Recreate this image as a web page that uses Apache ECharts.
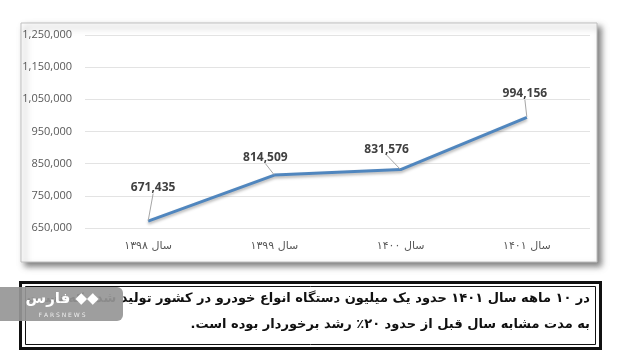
<!DOCTYPE html>
<html>
<head>
<meta charset="utf-8">
<script src="https://cdn.jsdelivr.net/npm/echarts@6/dist/echarts.min.js"></script>
<style>
html,body{margin:0;padding:0;background:#fff;}
#c{width:623px;height:362px;}
</style>
</head>
<body>
<div id="c"></div>
<script>
var categories = ['سال ۱۳۹۸', 'سال ۱۳۹۹', 'سال ۱۴۰۰', 'سال ۱۴۰۱'];
var production = [671435, 814509, 831576, 994156];
var yTicks = [650000, 750000, 850000, 950000, 1050000, 1150000, 1250000];
var captionLines = [
  'در ۱۰ ماهه سال ۱۴۰۱ حدود یک میلیون دستگاه انواع خودرو در کشور تولید شده که نسبت',
  'به مدت مشابه سال قبل از حدود ۲۰٪ رشد برخوردار بوده است.'
];
var labelShift = [[5, -22], [-9, -6], [-14, -9], [-2, -12]];

function fmt(v) { return v.toString().replace(/\B(?=(\d{3})+(?!\d))/g, ','); }

var chart = echarts.init(document.getElementById('c'), null, {renderer: 'canvas'});
chart.setOption({
  animation: false,
  backgroundColor: '#ffffff',
  grid: {left: 85, right: 33, top: 35, bottom: 134},
  xAxis: {
    type: 'category',
    data: categories,
    boundaryGap: true,
    axisLine: {show: false},
    axisTick: {show: false},
    axisLabel: {color: '#595959', fontSize: 11, fontFamily: 'DejaVu Sans', margin: 13}
  },
  yAxis: {
    type: 'value',
    min: yTicks[0],
    max: yTicks[yTicks.length - 1],
    interval: 100000,
    axisLine: {show: false},
    axisTick: {show: false},
    splitLine: {lineStyle: {color: '#e3e3e3', width: 1}},
    axisLabel: {color: '#595959', fontSize: 11, fontFamily: 'Open Sans', margin: 13,
      formatter: function (v) { return fmt(v); }}
  },
  series: [{
    type: 'line',
    data: production,
    symbol: 'circle',
    symbolSize: 1,
    showSymbol: true,
    itemStyle: {color: 'rgba(79,132,189,0)'},
    lineStyle: {color: '#5086be', width: 3, shadowColor: 'rgba(0,0,0,0.3)', shadowBlur: 3, shadowOffsetY: 2},
    label: {
      show: true, position: 'top', distance: 5, color: '#404040', fontSize: 12, fontWeight: 'bold',
      fontFamily: 'Open Sans',
      formatter: function (p) { return fmt(p.value); }
    },
    labelLine: {show: true, lineStyle: {color: '#a6a6a6', width: 1}},
    labelLayout: function (p) {
      var s = labelShift[p.dataIndex];
      return {dx: s[0], dy: s[1]};
    }
  }],
  graphic: [
    {type: 'rect', z: -10, shape: {x: 21, y: 23, width: 576, height: 239},
      style: {fill: '#fff', stroke: '#bfbfbf', lineWidth: 1,
        shadowColor: 'rgba(0,0,0,0.5)', shadowBlur: 6, shadowOffsetX: 4, shadowOffsetY: 4}},
    {type: 'rect', z: 10, shape: {x: 20.5, y: 282.5, width: 580, height: 66},
      style: {fill: '#fff', stroke: '#111', lineWidth: 3}},
    {type: 'rect', z: 11, shape: {x: 25.5, y: 286.5, width: 570, height: 58},
      style: {fill: 'none', stroke: '#111', lineWidth: 1}},
    {type: 'text', z: 12, x: 590, y: 299,
      style: {text: captionLines[0] + '\u200F', align: 'right', verticalAlign: 'middle',
        fontFamily: 'DejaVu Sans', fontWeight: 'bold', fontSize: 13, fill: '#111'}},
    {type: 'text', z: 12, x: 590, y: 325,
      style: {text: captionLines[1] + '\u200F', align: 'right', verticalAlign: 'middle',
        fontFamily: 'DejaVu Sans', fontWeight: 'bold', fontSize: 13, fill: '#111'}},
    {type: 'rect', z: 20, shape: {x: 0, y: 287, width: 123, height: 34, r: [0, 6, 6, 0]},
      style: {fill: 'rgba(150,150,150,0.92)'}},
    {type: 'text', z: 21, x: 62, y: 299,
      style: {text: 'فارس ◆◆', align: 'center', verticalAlign: 'middle',
        fontFamily: 'DejaVu Sans', fontWeight: 'bold', fontSize: 15, fill: '#fff'}},
    {type: 'text', z: 21, x: 62, y: 315,
      style: {text: 'F A R S N E W S', align: 'center', verticalAlign: 'middle',
        fontFamily: 'DejaVu Sans', fontSize: 6, fill: '#eee'}}
  ]
});
</script>
</body>
</html>
